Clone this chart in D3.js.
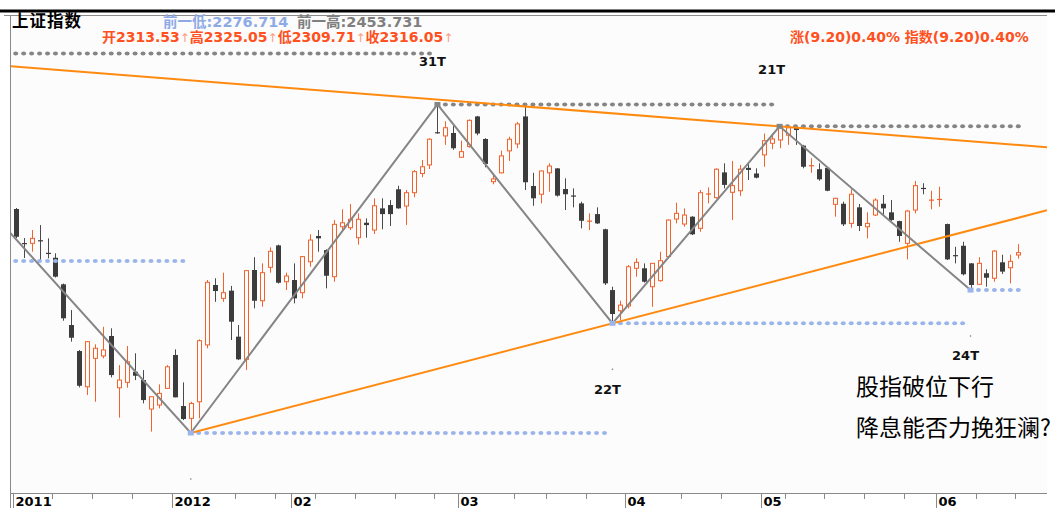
<!DOCTYPE html>
<html><head><meta charset="utf-8">
<script src="https://cdn.jsdelivr.net/npm/d3@7"></script>
<style>body{margin:0;background:#fff;} svg{display:block;}</style>
</head><body>
<svg id="c" width="1061" height="508"></svg>
<script>
// ---------- data ----------
const dates = [
"2011-12-05","2011-12-06","2011-12-07","2011-12-08","2011-12-09","2011-12-12","2011-12-13","2011-12-14","2011-12-15","2011-12-16",
"2011-12-19","2011-12-20","2011-12-21","2011-12-22","2011-12-23","2011-12-26","2011-12-27","2011-12-28","2011-12-29","2011-12-30",
"2012-01-04","2012-01-05","2012-01-06","2012-01-09","2012-01-10","2012-01-11","2012-01-12","2012-01-13","2012-01-16","2012-01-17",
"2012-01-18","2012-01-19","2012-01-20","2012-01-30","2012-01-31","2012-02-01","2012-02-02","2012-02-03","2012-02-06","2012-02-07",
"2012-02-08","2012-02-09","2012-02-10","2012-02-13","2012-02-14","2012-02-15","2012-02-16","2012-02-17","2012-02-20","2012-02-21",
"2012-02-22","2012-02-23","2012-02-24","2012-02-27","2012-02-28","2012-02-29","2012-03-01","2012-03-02","2012-03-05","2012-03-06",
"2012-03-07","2012-03-08","2012-03-09","2012-03-12","2012-03-13","2012-03-14","2012-03-15","2012-03-19","2012-03-20","2012-03-21",
"2012-03-22","2012-03-23","2012-03-26","2012-03-27","2012-03-28","2012-03-29","2012-03-30","2012-04-05","2012-04-06","2012-04-09",
"2012-04-10","2012-04-11","2012-04-12","2012-04-13","2012-04-16","2012-04-17","2012-04-18","2012-04-19","2012-04-20","2012-04-23",
"2012-04-24","2012-04-25","2012-04-26","2012-04-27","2012-05-02","2012-05-03","2012-05-04","2012-05-07","2012-05-08","2012-05-09",
"2012-05-10","2012-05-11","2012-05-14","2012-05-15","2012-05-16","2012-05-17","2012-05-18","2012-05-21","2012-05-22","2012-05-23",
"2012-05-24","2012-05-25","2012-05-28","2012-05-29","2012-05-30","2012-05-31","2012-06-01","2012-06-04","2012-06-05","2012-06-06",
"2012-06-07","2012-06-08","2012-06-11","2012-06-12","2012-06-13","2012-06-14","2012-06-15"];

const open = [
2362.7,2326.2,2325.9,2329.1,2315.6,2310.6,2282.7,2240.6,2214.1,2178.2,
2206.7,2209.1,2229.4,2177.2,2182.6,2193.2,2184.9,2156.1,2160.1,2176.6,
2210.1,2159.1,2147.0,2163.3,2220.3,2282.0,2268.1,2276.1,2228.7,2205.7,
2297.7,2265.6,2300.5,2323.7,2285.4,2287.2,2274.0,2306.4,2333.7,2318.7,
2290.7,2343.6,2342.6,2331.9,2347.9,2340.1,2363.4,2367.0,2384.1,2365.9,
2380.4,2401.4,2410.8,2447.0,2443.0,2446.3,2419.3,2431.1,2464.9,2439.6,
2392.4,2402.1,2426.4,2434.1,2464.9,2387.7,2378.7,2402.1,2407.0,2384.4,
2377.2,2368.8,2349.4,2357.2,2340.9,2276.7,2255.3,2260.1,2299.5,2299.5,
2280.2,2286.5,2311.8,2351.9,2346.5,2354.4,2341.9,2378.7,2375.0,2402.6,
2380.8,2382.5,2407.6,2401.4,2421.9,2434.8,2438.5,2443.8,2452.2,2432.2,
2409.6,2406.1,2407.6,2367.7,2368.4,2347.2,2364.5,2343.6,2356.2,2368.4,
2359.1,2349.7,2325.9,2361.6,2385.4,2372.1,2372.8,2346.5,2313.3,2323.3,
2304.7,2282.7,2294.3,2289.0,2305.8,2300.1,2313.53];
const high = [
2363.8,2331.5,2340.1,2345.4,2331.2,2315.3,2283.5,2256.0,2215.1,2224.3,
2220.9,2238.8,2237.2,2199.9,2219.2,2211.8,2194.9,2168.3,2180.6,2199.9,
2215.8,2182.6,2163.3,2226.0,2287.2,2289.0,2294.9,2281.0,2240.6,2297.5,
2311.2,2304.7,2321.6,2324.5,2294.9,2304.7,2312.5,2335.5,2340.1,2319.5,
2350.8,2362.4,2368.1,2358.0,2352.6,2374.3,2374.3,2372.4,2388.0,2383.3,
2405.3,2416.3,2440.4,2478.38,2459.4,2454.0,2437.7,2461.5,2465.5,2440.5,
2399.8,2426.6,2442.2,2458.7,2475.9,2402.1,2404.5,2412.6,2407.5,2396.1,
2385.1,2370.6,2358.0,2364.5,2341.5,2280.2,2265.6,2302.9,2310.0,2304.7,
2305.0,2317.0,2351.5,2369.5,2363.4,2355.0,2383.3,2386.2,2407.1,2412.6,
2415.2,2410.8,2412.6,2407.1,2445.7,2445.7,2453.73,2453.0,2453.0,2433.0,
2418.2,2412.6,2408.0,2374.8,2370.6,2384.1,2368.1,2359.1,2374.3,2377.9,
2372.4,2350.0,2361.6,2393.2,2390.7,2382.5,2386.9,2347.0,2322.2,2327.6,
2305.0,2311.2,2298.5,2318.7,2313.8,2313.8,2325.05];
const low = [
2331.5,2310.3,2317.0,2306.4,2310.0,2289.8,2245.0,2223.6,2177.6,2170.0,
2163.3,2206.7,2187.6,2147.6,2177.2,2184.9,2161.7,2134.0,2156.8,2176.6,
2167.7,2145.3,2132.63,2147.0,2216.9,2264.5,2264.5,2225.3,2205.0,2194.9,
2257.7,2259.4,2294.9,2283.5,2276.7,2262.9,2268.1,2301.1,2317.0,2278.5,
2285.4,2340.1,2340.1,2324.5,2331.9,2335.8,2340.9,2344.4,2363.0,2345.4,
2375.4,2397.3,2406.3,2445.5,2433.0,2427.5,2419.0,2430.0,2443.8,2408.2,
2389.6,2401.5,2415.2,2429.3,2383.3,2366.2,2368.8,2381.5,2376.1,2361.6,
2364.5,2341.9,2340.1,2346.5,2282.0,2242.34,2245.7,2257.7,2290.7,2284.5,
2259.4,2285.5,2310.0,2347.2,2343.6,2334.7,2338.3,2368.8,2374.0,2385.1,
2350.8,2376.9,2394.3,2396.0,2408.8,2428.2,2429.3,2433.0,2433.0,2407.1,
2402.1,2393.5,2382.0,2354.4,2344.4,2342.6,2339.0,2331.2,2355.1,2356.2,
2350.0,2327.6,2308.9,2358.0,2378.7,2362.4,2365.1,2308.2,2304.7,2292.0,
2276.71,2282.0,2280.2,2285.4,2293.6,2283.7,2309.71];
const close = [
2332.9,2325.2,2331.2,2328.3,2315.0,2290.7,2247.5,2227.6,2179.2,2223.6,
2216.9,2215.2,2189.9,2184.9,2203.3,2189.2,2165.0,2168.3,2171.6,2198.2,
2167.7,2146.3,2161.7,2224.6,2284.8,2275.7,2274.0,2244.0,2205.7,2297.0,
2265.6,2294.9,2317.4,2284.4,2291.4,2268.1,2311.8,2329.4,2331.2,2291.7,
2346.2,2347.9,2351.6,2351.6,2345.4,2366.2,2357.2,2357.2,2363.4,2380.4,
2403.4,2408.8,2439.3,2446.3,2452.2,2429.3,2425.5,2460.5,2445.7,2411.9,
2395.4,2420.8,2439.3,2456.4,2391.8,2374.3,2404.2,2409.6,2377.2,2378.7,
2376.5,2350.0,2350.0,2347.2,2283.7,2251.9,2261.1,2301.1,2305.8,2285.4,
2304.7,2307.5,2350.8,2358.0,2356.2,2335.5,2380.4,2379.4,2406.1,2388.9,
2388.1,2406.1,2405.3,2396.8,2437.7,2439.6,2453.2,2452.2,2449.6,2408.8,
2410.4,2395.0,2382.5,2374.3,2346.2,2378.7,2344.4,2347.2,2372.4,2363.4,
2350.8,2333.7,2360.5,2388.1,2384.8,2372.7,2373.5,2308.9,2312.5,2293.2,
2282.0,2304.7,2289.6,2317.7,2296.0,2306.85,2316.05];

// turning points of the zigzag (index relative to first candle; negative = before the window)
const turnIdx   = [-30, -21, 22, 53, 75, 96, 120];
const turnVal   = [2307.15, 2536.78, 2132.63, 2478.38, 2242.34, 2453.73, 2276.71];
const turnType  = ["L","H","L","H","L","H","L"];
const turnLabel = ["","","","31T","22T","21T","24T"];

const upperTrend = [1, 5]; // positions in turn arrays (Nov high -> May high)
const lowerTrend = [2, 4]; // Jan low -> Mar low

const monthTickIdx = [0, 20, 35, 56, 77, 94, 116];
const monthTickLbl = ["2011","2012","02","03","04","05","06"];
const weekTickIdx  = [5,10,15,28,33,38,43,48,53,63,67,72,84,89,97,102,107,112,121,126];

const title = "上证指数";
const prevLow = "2276.714", prevHigh = "2453.731";
const ohlcLbl = ["开","高","低","收"];
const ohlcVal = ["2313.53","2325.05","2309.71","2316.05"];
const chgText = "涨(9.20)0.40% 指数(9.20)0.40%";
const note1 = "股指破位下行", note2 = "降息能否力挽狂澜?";

// ---------- layout ----------
const W = 1061, H = 508;
const plot = {l: 10, r: 1047, t: 15, b: 493};
const UP = "#f2622a", DOWN = "#3c3c3c", BG = "#fcfcfc";
const labelOff = {"31T":[-5,-43], "22T":[-5,66], "21T":[-8,-57], "24T":[-5,65]};

const svg = d3.select("#c");
const x = d3.scaleLinear().domain([0, dates.length - 1]).range([15.7, 1018.3]);
const y = d3.scaleLog().domain([2132.63, 2478.38]).range([433, 104.5]);

svg.append("rect").attr("width", W).attr("height", H).attr("fill", "#fff");
svg.append("rect").attr("x", plot.l).attr("y", plot.t).attr("width", plot.r - plot.l).attr("height", plot.b - plot.t).attr("fill", BG);

// frame
svg.append("rect").attr("x", 0).attr("y", 9.5).attr("width", 1055).attr("height", 3).attr("fill", "#000");
svg.append("line").attr("x1", 4).attr("x2", plot.r).attr("y1", 15.5).attr("y2", 15.5).attr("stroke", "#8a8a8a");
svg.append("line").attr("x1", 10.5).attr("x2", 10.5).attr("y1", 15).attr("y2", H).attr("stroke", "#8a8a8a");

svg.append("clipPath").attr("id", "clip").append("rect")
  .attr("x", plot.l + 1).attr("y", plot.t + 1).attr("width", plot.r - plot.l - 1).attr("height", plot.b - plot.t - 1);
const g = svg.append("g").attr("clip-path", "url(#clip)");

// candles
const idx = d3.range(dates.length);
const cg = g.append("g");
idx.forEach(i => {
  const xc = Math.round(x(i));
  const up = close[i] >= open[i];
  const col = up ? UP : DOWN;
  cg.append("line").attr("x1", xc + 0.5).attr("x2", xc + 0.5)
    .attr("y1", y(high[i])).attr("y2", y(low[i])).attr("stroke", up ? UP : "#4a4a4a").attr("stroke-width", 1);
  const yt = y(Math.max(open[i], close[i])), yb = y(Math.min(open[i], close[i]));
  const h = yb - yt;
  if (h < 1.6) {
    cg.append("rect").attr("x", xc - 2).attr("y", (yt + yb) / 2 - 0.5).attr("width", 5).attr("height", 1.2).attr("fill", col);
  } else if (up) {
    cg.append("rect").attr("x", xc - 1.5).attr("y", yt).attr("width", 4).attr("height", h)
      .attr("fill", BG).attr("stroke", UP).attr("stroke-width", 1);
  } else {
    cg.append("rect").attr("x", xc - 2).attr("y", yt).attr("width", 5).attr("height", h).attr("fill", DOWN);
  }
});

// dotted support / resistance levels
const dg = g.append("g");
turnIdx.forEach((ti, k) => {
  let nextSame = dates.length;
  for (let j = k + 1; j < turnIdx.length; j++) if (turnType[j] === turnType[k]) { nextSame = turnIdx[j]; break; }
  const col = turnType[k] === "H" ? "#858585" : "#9bb5ec";
  const yy = y(turnVal[k]);
  for (let j = Math.max(ti + 1, 0); j < Math.min(nextSame, dates.length); j++) {
    dg.append("ellipse").attr("cx", x(j)).attr("cy", yy).attr("rx", 2.5).attr("ry", 2).attr("fill", col);
  }
});

// trend lines (straight in log-price space)
function trendVal(a, b, i) {
  const i1 = turnIdx[a], i2 = turnIdx[b];
  const l1 = Math.log(turnVal[a]), l2 = Math.log(turnVal[b]);
  return Math.exp(l1 + (l2 - l1) * (i - i1) / (i2 - i1));
}
const iEnd = x.invert(plot.r);
const iStart = x.invert(plot.l - 2);
[[upperTrend, iStart], [lowerTrend, turnIdx[lowerTrend[0]]]].forEach(([t, s]) => {
  g.append("line")
    .attr("x1", x(s)).attr("y1", y(trendVal(t[0], t[1], s)))
    .attr("x2", x(iEnd)).attr("y2", y(trendVal(t[0], t[1], iEnd)))
    .attr("stroke", "#ff8a10").attr("stroke-width", 2);
});

// zigzag
g.append("path")
  .datum(turnIdx.map((ti, k) => [ti, turnVal[k]]))
  .attr("d", d3.line().x(d => x(d[0])).y(d => y(d[1])))
  .attr("fill", "none").attr("stroke", "#858585").attr("stroke-width", 2);

// markers at turning points
turnIdx.forEach((ti, k) => {
  if (ti < 0) return;
  g.append("rect").attr("x", x(ti) - 3).attr("y", y(turnVal[k]) - 2.5).attr("width", 6).attr("height", 5)
    .attr("fill", turnType[k] === "H" ? "#858585" : "#9bb5ec");
  if (turnType[k] === "L") {
    svg.append("circle").attr("cx", x(ti)).attr("cy", y(turnVal[k]) + 46).attr("r", 0.8).attr("fill", "#777");
  }
  const lb = turnLabel[k];
  if (lb) {
    const o = labelOff[lb];
    svg.append("text").attr("x", x(ti) + o[0]).attr("y", y(turnVal[k]) + o[1] + 4.5)
      .attr("text-anchor", "middle").attr("font-family", "DejaVu Sans, sans-serif")
      .attr("font-weight", "bold").attr("font-size", 13).attr("fill", "#111").text(lb);
  }
});

// x axis
svg.append("line").attr("x1", plot.l).attr("x2", plot.r).attr("y1", plot.b + 0.5).attr("y2", plot.b + 0.5).attr("stroke", "#8a8a8a");
weekTickIdx.forEach(i => {
  const xx = Math.round(x(i) - 3) + 0.5;
  svg.append("line").attr("x1", xx).attr("x2", xx).attr("y1", plot.b).attr("y2", plot.b + 6).attr("stroke", "#8a8a8a");
});
monthTickIdx.forEach((i, k) => {
  const xx = Math.round(x(i) - 3) + 0.5;
  svg.append("line").attr("x1", xx).attr("x2", xx).attr("y1", plot.b).attr("y2", H).attr("stroke", "#8a8a8a");
  svg.append("text").attr("x", xx + 2).attr("y", 506).attr("font-family", "DejaVu Sans, sans-serif")
    .attr("font-weight", "bold").attr("font-size", 13).attr("fill", "#000").text(monthTickLbl[k]);
});

// header texts
const FF = "DejaVu Sans, 'Noto Sans CJK SC', sans-serif";
svg.append("text").attr("x", 12).attr("y", 27).attr("font-family", "'Noto Sans CJK SC', sans-serif")
  .attr("font-weight", "bold").attr("font-size", 16.5).attr("letter-spacing", 1).attr("fill", "#000").text(title);
svg.append("text").attr("x", 163).attr("y", 27).attr("font-family", FF).attr("font-weight", "bold")
  .attr("font-size", 14.5).attr("fill", "#8eaae6").text("前一低:" + prevLow);
svg.append("text").attr("x", 297).attr("y", 27).attr("font-family", FF).attr("font-weight", "bold")
  .attr("font-size", 14.5).attr("fill", "#7f7f7f").text("前一高:" + prevHigh);
const t2 = svg.append("text").attr("x", 102).attr("y", 42).attr("font-family", FF).attr("font-weight", "bold")
  .attr("font-size", 14).attr("fill", "#ff5020");
ohlcLbl.forEach((l, k) => {
  t2.append("tspan").text(l + ohlcVal[k]);
  t2.append("tspan").attr("font-weight", "normal").attr("font-size", 12).attr("fill", "#ff9a80").text("↑");
});
svg.append("text").attr("x", 790).attr("y", 42).attr("font-family", FF).attr("font-weight", "bold")
  .attr("font-size", 14).attr("fill", "#ff5020").text(chgText);

// annotation
[note1, note2].forEach((t, k) => {
  svg.append("text").attr("x", 856).attr("y", 395 + k * 41).attr("font-family", "'Noto Sans CJK SC', sans-serif")
    .attr("font-size", 23).attr("fill", "#000").text(t);
});
</script>
</body></html>
